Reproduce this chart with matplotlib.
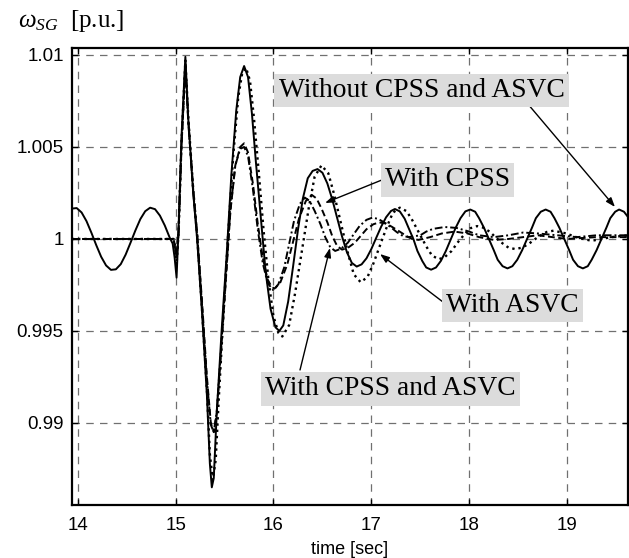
import matplotlib
matplotlib.use("Agg")
from matplotlib import pyplot as plt

# Rotor speed of the synchronous generator (p.u.)
t_without = [13.94, 13.99, 14.04, 14.09, 14.14, 14.19, 14.24, 14.29, 14.34, 14.39,
             14.44, 14.49, 14.54, 14.59, 14.64, 14.69, 14.74, 14.79, 14.84, 14.89,
             14.94, 14.97, 14.99, 15.01, 15.03, 15.06, 15.10, 15.13, 15.18, 15.22,
             15.27, 15.32, 15.35, 15.37, 15.39, 15.42, 15.47, 15.52, 15.57, 15.62,
             15.66, 15.70, 15.74, 15.78, 15.82, 15.87, 15.92, 15.97, 16.02, 16.06,
             16.10, 16.15, 16.20, 16.25, 16.30, 16.35, 16.40, 16.45, 16.50, 16.55,
             16.60, 16.65, 16.70, 16.75, 16.80, 16.85, 16.90, 16.95, 17.00, 17.05,
             17.10, 17.15, 17.20, 17.24, 17.29, 17.34, 17.38, 17.43, 17.47, 17.52,
             17.56, 17.61, 17.66, 17.71, 17.76, 17.81, 17.86, 17.91, 17.96, 18.01,
             18.06, 18.10, 18.15, 18.20, 18.25, 18.29, 18.34, 18.39, 18.44, 18.49,
             18.54, 18.59, 18.64, 18.68, 18.73, 18.78, 18.83, 18.87, 18.92, 18.97,
             19.02, 19.06, 19.11, 19.16, 19.21, 19.25, 19.30, 19.35, 19.40, 19.44,
             19.49, 19.53, 19.58, 19.63]
w_without = [1.00165, 1.00168, 1.00144, 1.00097, 1.00034, 0.99966, 0.99903, 0.99856, 0.99832, 0.99835,
             0.99863, 0.99915, 0.99980, 1.00047, 1.00108, 1.00151, 1.00170, 1.00162, 1.00127, 1.00073,
             1.00007, 0.99975, 0.99900, 0.99790, 1.00050, 1.00550, 1.00990, 1.00650, 1.00250, 1.00000,
             0.99600, 0.99150, 0.98780, 0.98650, 0.98700, 0.99050, 0.99500, 0.99900, 1.00350, 1.00700,
             1.00880, 1.00940, 1.00880, 1.00680, 1.00420, 1.00120, 0.99820, 0.99620, 0.99520, 0.99500,
             0.99530, 0.99660, 0.99850, 1.00050, 1.00220, 1.00330, 1.00370, 1.00380, 1.00360, 1.00302,
             1.00216, 1.00115, 1.00014, 0.99928, 0.99870, 0.99850, 0.99862, 0.99895, 0.99946, 1.00007,
             1.00067, 1.00118, 1.00152, 1.00163, 1.00150, 1.00110, 1.00060, 0.99998, 0.99935, 0.99880,
             0.99845, 0.99833, 0.99845, 0.99881, 0.99934, 0.99997, 1.00060, 1.00113, 1.00150, 1.00160,
             1.00148, 1.00113, 1.00061, 1.00000, 0.99939, 0.99887, 0.99852, 0.99840, 0.99852, 0.99887,
             0.99939, 1.00000, 1.00061, 1.00113, 1.00148, 1.00160, 1.00148, 1.00113, 1.00061, 1.00000,
             0.99939, 0.99887, 0.99852, 0.99840, 0.99852, 0.99887, 0.99939, 1.00000, 1.00061, 1.00113,
             1.00148, 1.00160, 1.00148, 1.00113]

t_asvc = [13.94, 14.98, 15.00, 15.01, 15.03, 15.06, 15.10, 15.13, 15.18, 15.22,
          15.27, 15.32, 15.35, 15.38, 15.41, 15.44, 15.49, 15.54, 15.59, 15.64,
          15.68, 15.72, 15.76, 15.80, 15.85, 15.90, 15.95, 16.00, 16.05, 16.09,
          16.16, 16.22, 16.29, 16.36, 16.42, 16.49, 16.56, 16.62, 16.69, 16.76,
          16.82, 16.89, 16.96, 17.02, 17.09, 17.16, 17.22, 17.29, 17.36, 17.42,
          17.49, 17.56, 17.62, 17.69, 17.75, 17.82, 17.88, 17.95, 18.01, 18.08,
          18.14, 18.21, 18.27, 18.34, 18.40, 18.47, 18.53, 18.60, 18.66, 18.73,
          18.79, 18.86, 18.99, 19.05, 19.12, 19.25, 19.45, 19.63]
w_asvc = [1.00000, 1.00000, 0.99950, 0.99860, 1.00030, 1.00520, 1.00970, 1.00660, 1.00270, 1.00020,
          0.99620, 0.99180, 0.98830, 0.98690, 0.98800, 0.99120, 0.99600, 1.00050, 1.00460, 1.00770,
          1.00900, 1.00930, 1.00860, 1.00660, 1.00360, 1.00040, 0.99770, 0.99580, 0.99490, 0.99470,
          0.99532, 0.99703, 0.99935, 1.00168, 1.00338, 1.00400, 1.00357, 1.00241, 1.00083, 0.99924,
          0.99808, 0.99765, 0.99793, 0.99866, 0.99968, 1.00069, 1.00143, 1.00170, 1.00151, 1.00100,
          1.00030, 0.99960, 0.99909, 0.99890, 0.99902, 0.99935, 0.99980, 1.00025, 1.00058, 1.00070,
          1.00062, 1.00039, 1.00008, 0.99976, 0.99953, 0.99945, 0.99952, 0.99970, 0.99995, 1.00020,
          1.00038, 1.00045, 1.00030, 1.00018, 1.00005, 0.99990, 1.00010, 1.00020]

t_cpss = [13.94, 14.98, 15.01, 15.03, 15.06, 15.10, 15.13, 15.18, 15.22, 15.27,
          15.32, 15.36, 15.39, 15.42, 15.46, 15.51, 15.56, 15.61, 15.66, 15.70,
          15.74, 15.79, 15.84, 15.89, 15.94, 15.98, 16.01, 16.07, 16.14, 16.20,
          16.26, 16.33, 16.39, 16.44, 16.49, 16.55, 16.60, 16.65, 16.70, 16.76,
          16.83, 16.89, 16.95, 17.02, 17.08, 17.15, 17.21, 17.28, 17.35, 17.41,
          17.48, 17.60, 17.72, 17.85, 17.98, 18.10, 18.25, 18.40, 18.55, 18.70,
          18.85, 19.00, 19.30, 19.63]
w_cpss = [1.00000, 1.00000, 0.99900, 1.00030, 1.00500, 1.00950, 1.00640, 1.00270, 1.00030, 0.99660,
          0.99250, 0.99000, 0.98950, 0.99050, 0.99350, 0.99750, 1.00150, 1.00400, 1.00500, 1.00520,
          1.00470, 1.00300, 1.00080, 0.99900, 0.99780, 0.99740, 0.99730, 0.99764, 0.99860, 0.99985,
          1.00110, 1.00206, 1.00240, 1.00220, 1.00166, 1.00091, 1.00016, 0.99962, 0.99942, 0.99952,
          0.99979, 1.00016, 1.00053, 1.00080, 1.00090, 1.00084, 1.00066, 1.00043, 1.00019, 1.00001,
          0.99995, 1.00010, 1.00030, 1.00040, 1.00030, 1.00010, 0.99995, 1.00000, 1.00010, 1.00020,
          1.00010, 1.00000, 1.00010, 1.00010]

t_both = [13.94, 14.98, 15.01, 15.03, 15.06, 15.10, 15.13, 15.18, 15.22, 15.27,
          15.32, 15.36, 15.39, 15.42, 15.46, 15.51, 15.56, 15.61, 15.66, 15.70,
          15.74, 15.79, 15.84, 15.89, 15.94, 16.00, 16.05, 16.11, 16.16, 16.21,
          16.27, 16.32, 16.37, 16.42, 16.48, 16.53, 16.58, 16.63, 16.69, 16.76,
          16.82, 16.88, 16.95, 17.01, 17.07, 17.13, 17.20, 17.26, 17.32, 17.38,
          17.50, 17.56, 17.63, 17.75, 17.87, 18.00, 18.10, 18.25, 18.40, 18.55,
          18.70, 18.90, 19.10, 19.30, 19.63]
w_both = [1.00000, 1.00000, 0.99900, 1.00030, 1.00500, 1.00940, 1.00630, 1.00260, 1.00020, 0.99640,
          0.99230, 0.98990, 0.98950, 0.99060, 0.99370, 0.99770, 1.00160, 1.00400, 1.00490, 1.00500,
          1.00450, 1.00270, 1.00050, 0.99870, 0.99760, 0.99720, 0.99754, 0.99846, 0.99973, 1.00099,
          1.00191, 1.00225, 1.00206, 1.00153, 1.00080, 1.00008, 0.99955, 0.99935, 0.99947, 0.99980,
          1.00026, 1.00071, 1.00104, 1.00116, 1.00109, 1.00090, 1.00063, 1.00037, 1.00017, 1.00010,
          1.00020, 1.00040, 1.00055, 1.00065, 1.00060, 1.00040, 1.00020, 1.00010, 1.00020, 1.00035,
          1.00030, 1.00020, 1.00010, 1.00020, 1.00020]

x_ticks = [14, 15, 16, 17, 18, 19]
y_ticks = [0.99, 0.995, 1.0, 1.005, 1.01]
y_tick_labels = ["0.99", "0.995", "1", "1.005", "1.01"]

# (label, text centre, arrow tail, arrow head) in data coords
notes = [
    ("Without CPSS and ASVC", (17.512, 1.00807), (18.59, 1.00739), (19.488, 1.00174)),
    ("With CPSS", (17.777, 1.00321), (17.109, 1.00321), (16.527, 1.00196)),
    ("With ASVC", (18.441, 0.99639), (17.772, 0.99641), (17.088, 0.99918)),
    ("With CPSS and ASVC", (17.195, 0.99185), (16.271, 0.99288), (16.577, 0.99951)),
]

plt.rcParams["font.family"] = ["Liberation Sans", "DejaVu Sans"]
plt.rcParams["mathtext.fontset"] = "custom"
plt.rcParams["mathtext.rm"] = "Liberation Serif"
plt.rcParams["mathtext.it"] = "Liberation Serif:italic"

fig = plt.figure(figsize=(6.29, 5.58), dpi=100)
ax = fig.add_axes([72 / 629, 53 / 558, 556 / 629, 457 / 558])

lw = 1.4
ax.plot(t_without, w_without, "-", color="k", lw=lw, zorder=3)
ax.plot(t_asvc, w_asvc, ":", color="k", lw=lw + 0.3, zorder=3)
ax.plot(t_cpss, w_cpss, "--", color="k", lw=lw, dashes=(3.5, 1.8), zorder=3)
ax.plot(t_both, w_both, "-.", color="k", lw=lw, dashes=(4, 1.5, 1, 1.5), zorder=3)

ax.set_xlim(13.942, 19.621)
ax.set_ylim(0.98554, 1.01038)
ax.set_xticks(x_ticks)
ax.set_yticks(y_ticks)
ax.set_yticklabels(y_tick_labels)
ax.tick_params(direction="in", length=4, width=1, top=True, right=True,
               labelsize=13.5, pad=6, colors="k")
ax.tick_params(axis="x", pad=9)
ax.grid(True, color="#707070", lw=0.9, linestyle=(0, (6, 5)))
for s in ax.spines.values():
    s.set_linewidth(1.6)
ax.set_xlabel("time [sec]", fontsize=13, labelpad=5)

# Labels with grey boxes and arrows
for label, centre, tail, head in notes:
    ax.annotate("", xy=head, xytext=tail,
                arrowprops=dict(arrowstyle="-|>,head_length=0.55,head_width=0.2",
                                color="k", lw=1.0, shrinkA=0, shrinkB=0),
                zorder=4)
    ax.text(centre[0], centre[1], label, ha="center", va="center",
            family="Liberation Serif", fontsize=19.8, zorder=5,
            bbox=dict(boxstyle="square,pad=0.15", fc="#dcdcdc", ec="none"))

fig.text(18 / 629, 1 - 27 / 558, r"$\omega_{SG}$  [p.u.]", family="Liberation Serif",
         fontsize=18, ha="left", va="baseline")

fig.savefig("out.png", dpi=100)
